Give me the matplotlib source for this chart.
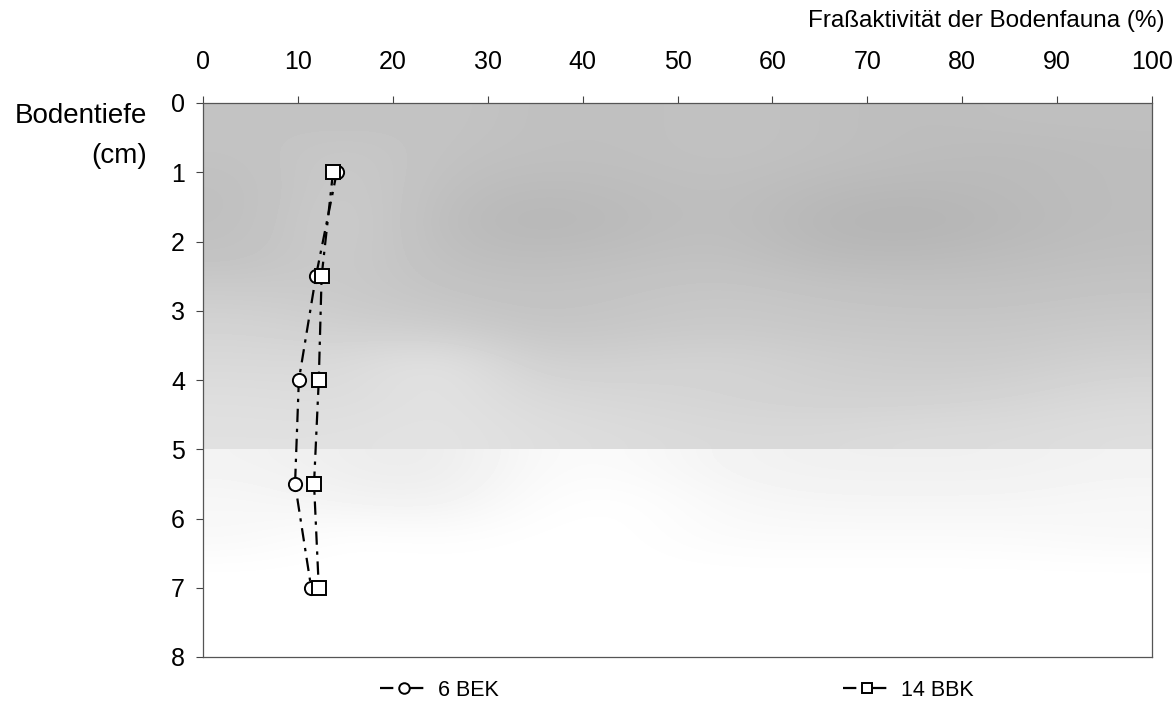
import matplotlib
matplotlib.use("Agg")
import matplotlib.pyplot as plt
import numpy as np

plt.rcParams['font.family'] = ['Liberation Sans', 'DejaVu Sans']

# ---- data ----
depth = [1, 2.5, 4, 5.5, 7]
bek6 = [14.1, 11.9, 10.1, 9.7, 11.4]
bbk14 = [13.7, 12.5, 12.2, 11.7, 12.2]
series_labels = ["6 BEK", "14 BBK"]
x_ticks = list(range(0, 101, 10))
y_ticks = list(range(0, 9))
x_title = "Fraßaktivität der Bodenfauna (%)"
y_title_lines = ["Bodentiefe", "(cm)"]

# ---- decorative background (scanned soil texture), lightness 0..1 ----
# rows: depth 0-5 cm in 0.5 cm steps; columns: 0-100 % in 10 % steps
bg_upper = np.array([
    [0.77, 0.76, 0.77, 0.75, 0.75, 0.76, 0.75, 0.74, 0.75, 0.75],
    [0.76, 0.79, 0.76, 0.75, 0.75, 0.76, 0.75, 0.74, 0.73, 0.74],
    [0.75, 0.80, 0.75, 0.73, 0.74, 0.75, 0.73, 0.72, 0.73, 0.74],
    [0.75, 0.81, 0.74, 0.71, 0.73, 0.75, 0.71, 0.70, 0.72, 0.74],
    [0.76, 0.80, 0.75, 0.74, 0.75, 0.76, 0.73, 0.73, 0.74, 0.75],
    [0.80, 0.79, 0.77, 0.76, 0.77, 0.78, 0.77, 0.76, 0.76, 0.77],
    [0.83, 0.81, 0.80, 0.77, 0.78, 0.79, 0.78, 0.78, 0.78, 0.79],
    [0.85, 0.85, 0.90, 0.81, 0.82, 0.83, 0.81, 0.80, 0.80, 0.82],
    [0.87, 0.86, 0.89, 0.85, 0.84, 0.83, 0.82, 0.82, 0.83, 0.85],
    [0.88, 0.88, 0.89, 0.87, 0.86, 0.85, 0.85, 0.86, 0.86, 0.87],
])
# rows: depth 5-8 cm in 0.5 cm steps
bg_lower = np.array([
    [0.95, 0.93, 0.92, 0.98, 0.98, 0.95, 0.94, 0.94, 0.94, 0.95],
    [0.97, 0.95, 0.94, 0.99, 1.00, 0.97, 0.96, 0.96, 0.96, 0.97],
    [0.97, 1.00, 0.99, 1.00, 1.00, 0.98, 0.98, 0.98, 0.98, 0.97],
    [1.00, 1.00, 1.00, 1.00, 1.00, 1.00, 1.00, 1.00, 1.00, 1.00],
    [1.00, 1.00, 1.00, 1.00, 1.00, 1.00, 1.00, 1.00, 1.00, 1.00],
    [1.00, 1.00, 1.00, 1.00, 1.00, 1.00, 1.00, 1.00, 1.00, 1.00],
])

W, H = 1176, 704
fig = plt.figure(figsize=(W / 100, H / 100), dpi=100)
ax = fig.add_axes([203 / W, 1 - 657 / H, (1152 - 203) / W, (657 - 103) / H])

ax.imshow(bg_upper, cmap='gray', vmin=0, vmax=1, extent=(0, 100, 5, 0),
          aspect='auto', interpolation='bicubic', zorder=0)
ax.imshow(bg_lower, cmap='gray', vmin=0, vmax=1, extent=(0, 100, 8, 5),
          aspect='auto', interpolation='bicubic', zorder=0)

ls = (0, (6, 3, 1.5, 3))
l1, = ax.plot(bek6, depth, color='black', lw=1.6, linestyle=ls, marker='o',
              markersize=9.5, markerfacecolor='white', markeredgecolor='black',
              markeredgewidth=1.4, zorder=3, label=series_labels[0])
l2, = ax.plot(bbk14, depth, color='black', lw=1.6, linestyle=ls, marker='s',
              markersize=9.5, markerfacecolor='white', markeredgecolor='black',
              markeredgewidth=1.4, zorder=4, label=series_labels[1])

ax.set_xlim(0, 100)
ax.set_ylim(8, 0)
ax.xaxis.tick_top()
ax.set_xticks(x_ticks)
ax.set_yticks(y_ticks)
ax.tick_params(axis='both', direction='out', length=5, width=0.8,
               labelsize=18, color='#444444')
ax.tick_params(axis='x', pad=16)
ax.tick_params(axis='y', pad=8)
for sp in ax.spines.values():
    sp.set_color('#555555')
    sp.set_linewidth(0.9)

fig.text(1165 / W, 1 - 27 / H, x_title, ha='right', va='baseline', fontsize=17.5)
fig.text(147 / W, 1 - 123 / H, y_title_lines[0], ha='right', va='baseline',
         fontsize=20)
fig.text(147 / W, 1 - 163 / H, y_title_lines[1], ha='right', va='baseline',
         fontsize=20)

leg_kw = dict(frameon=False, fontsize=15.5, handlelength=2.2, handletextpad=0.5,
              borderpad=0, borderaxespad=0, markerscale=0.8, loc='center left')
leg1 = fig.legend(handles=[l1], labels=[series_labels[0]],
                  bbox_to_anchor=(380 / W, 1 - 690 / H), **leg_kw)
leg2 = fig.legend(handles=[l2], labels=[series_labels[1]],
                  bbox_to_anchor=(843 / W, 1 - 690 / H), **leg_kw)

fig.savefig("out.png", dpi=100)
